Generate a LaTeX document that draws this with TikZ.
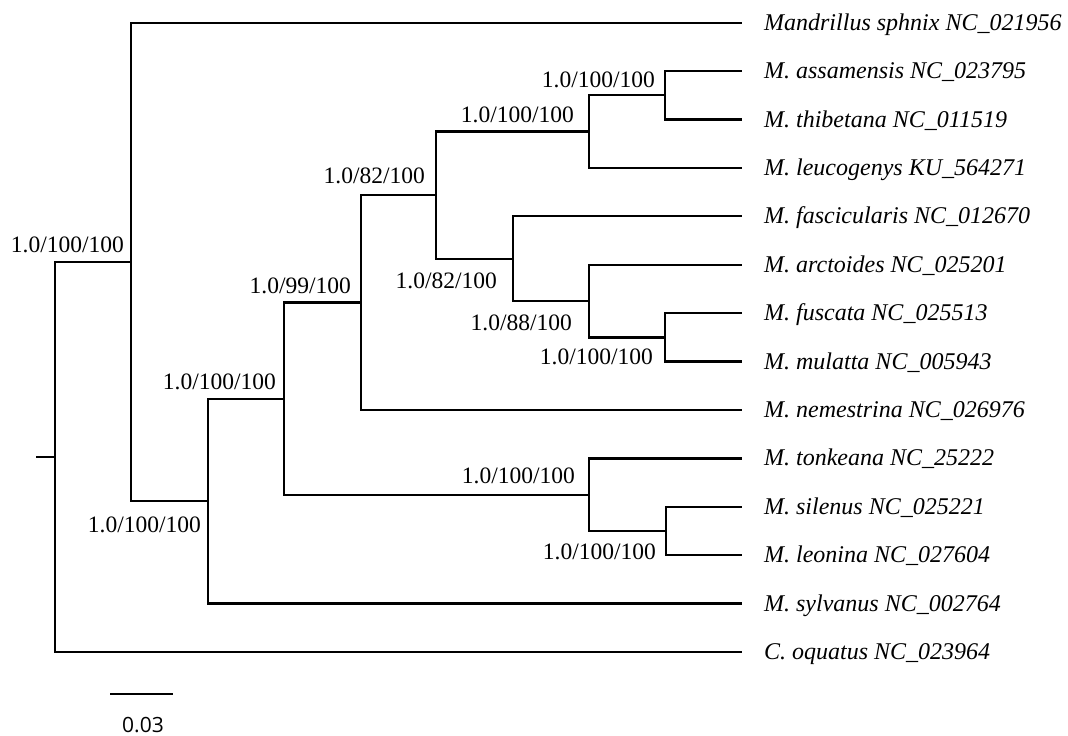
\documentclass[tikz,border=0pt]{standalone}
\usepackage{fontspec}
\setmainfont{Liberation Serif}
\newfontfamily\sbfont{Open Sans}
\begin{document}
\begin{tikzpicture}[x=1pt,y=-1pt,line width=2.3pt,
  tip/.style={anchor=west, inner xsep=21pt, inner ysep=0pt, text height=15pt, text depth=0pt, font=\fontsize{24}{28}\selectfont\itshape},
  blabel/.style={anchor=base east, inner sep=0pt, font=\fontsize{23.5}{28}\selectfont},
  sblabel/.style={anchor=base, inner sep=0pt, font={\sbfont\fontsize{21}{24}\selectfont}}]
\useasboundingbox (0,0) rectangle (1068,736);
% tips
\node[tip] (t0) at (742,22.7) {Mandrillus sphnix NC\_021956};
\node[tip] (t1) at (742,71.1) {M. assamensis NC\_023795};
\node[tip] (t2) at (742,119.5) {M. thibetana NC\_011519};
\node[tip] (t3) at (742,167.9) {M. leucogenys KU\_564271};
\node[tip] (t4) at (742,216.3) {M. fascicularis NC\_012670};
\node[tip] (t5) at (742,264.8) {M. arctoides NC\_025201};
\node[tip] (t6) at (742,313.2) {M. fuscata NC\_025513};
\node[tip] (t7) at (742,361.6) {M. mulatta NC\_005943};
\node[tip] (t8) at (742,410.0) {M. nemestrina NC\_026976};
\node[tip] (t9) at (742,458.4) {M. tonkeana NC\_25222};
\node[tip] (t10) at (742,506.8) {M. silenus NC\_025221};
\node[tip] (t11) at (742,555.2) {M. leonina NC\_027604};
\node[tip] (t12) at (742,603.6) {M. sylvanus NC\_002764};
\node[tip] (t13) at (742,652.0) {C. oquatus NC\_023964};
% internal nodes
\coordinate (G) at (665,95.3);
\coordinate (F) at (589,131.6);
\coordinate (J) at (665,337.4);
\coordinate (I) at (589,301.1);
\coordinate (H) at (513,258.7);
\coordinate (E) at (436,195.2);
\coordinate (D) at (361,302.6);
\coordinate (L) at (666,531.0);
\coordinate (K) at (589,494.7);
\coordinate (C) at (284,398.7);
\coordinate (B) at (208,501.1);
\coordinate (A) at (131,261.9);
\coordinate (R) at (55,457.0);
\coordinate (R0) at (36,457.0);
% branches
\draw (R0) -- (R);
\draw (R) |- (A);
\draw (R) |- (t13.west);
\draw (A) |- (t0.west);
\draw (A) |- (B);
\draw (B) |- (C);
\draw (B) |- (t12.west);
\draw (C) |- (D);
\draw (C) |- (K);
\draw (D) |- (E);
\draw (D) |- (t8.west);
\draw (E) |- (F);
\draw (E) |- (H);
\draw (F) |- (G);
\draw (F) |- (t3.west);
\draw (G) |- (t1.west);
\draw (G) |- (t2.west);
\draw (H) |- (t4.west);
\draw (H) |- (I);
\draw (I) |- (t5.west);
\draw (I) |- (J);
\draw (J) |- (t6.west);
\draw (J) |- (t7.west);
\draw (K) |- (t9.west);
\draw (K) |- (L);
\draw (L) |- (t10.west);
\draw (L) |- (t11.west);
% support labels
\node[blabel] (lA) at (125,252) {1.0/100/100};
\node[blabel] (lE) at (426,183) {1.0/82/100};
\node[blabel] (lD) at (352,293) {1.0/99/100};
\node[blabel] (lH) at (498,288) {1.0/82/100};
\node[blabel] (lF) at (575,122) {1.0/100/100};
\node[blabel] (lG) at (656,87) {1.0/100/100};
\node[blabel] (lI) at (573,330) {1.0/88/100};
\node[blabel] (lJ) at (654,364) {1.0/100/100};
\node[blabel] (lC) at (277,389) {1.0/100/100};
\node[blabel] (lB) at (202,532) {1.0/100/100};
\node[blabel] (lK) at (576,483) {1.0/100/100};
\node[blabel] (lL) at (657,559) {1.0/100/100};
% scale bar
\coordinate (s1) at (110,694);
\coordinate (s2) at (173,694);
\draw (s1) -- (s2);
\node[sblabel] (sl) at (143,732) {0.03};
\end{tikzpicture}
\end{document}
